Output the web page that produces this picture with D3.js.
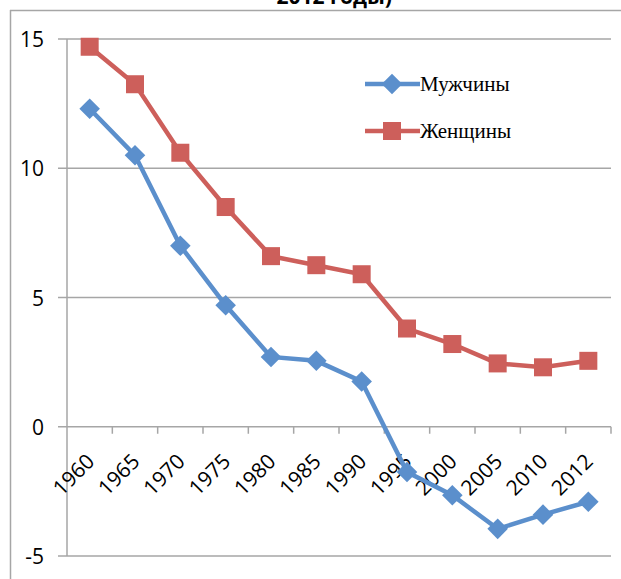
<!DOCTYPE html>
<html>
<head>
<meta charset="utf-8">
<script src="https://cdn.jsdelivr.net/npm/d3@7"></script>
<style>
body { margin: 0; background: #fff; }
svg { display: block; }
</style>
</head>
<body>
<svg width="621" height="579"></svg>
<script>
const years = ["1960", "1965", "1970", "1975", "1980", "1985", "1990", "1995", "2000", "2005", "2010", "2012"];
const men = [12.3, 10.5, 7.0, 4.7, 2.7, 2.55, 1.75, -1.75, -2.65, -3.95, -3.4, -2.9];
const women = [14.7, 13.25, 10.6, 8.5, 6.6, 6.25, 5.9, 3.8, 3.2, 2.45, 2.3, 2.55];
const yTicks = [-5, 0, 5, 10, 15];
const seriesNames = ["Мужчины", "Женщины"];

let svg = d3.select("svg"),
	width = +svg.attr("width"),
	height = +svg.attr("height");

const blue = "#5B8FCC", red = "#CD5F5B", grid = "#A6A6A6";

// chart area border (top + left edges visible)
svg.append("line").attr("x1", 10).attr("x2", width).attr("y1", 10.5).attr("y2", 10.5)
	.attr("stroke", grid).attr("stroke-width", 1.5);
svg.append("line").attr("x1", 10.5).attr("x2", 10.5).attr("y1", 10).attr("y2", height)
	.attr("stroke", grid).attr("stroke-width", 1.5);

// title, clipped at the top like in the source
svg.append("text")
	.attr("x", 392).attr("y", 4)
	.attr("text-anchor", "end")
	.style("font-family", "'Open Sans', sans-serif")
	.style("font-weight", "bold")
	.style("font-size", "21px")
	.text("2012 годы)");

let x = d3.scaleBand().domain(years).range([67, 611]);
let y = d3.scaleLinear().domain([-5, 15]).range([556, 39]);

// gridlines
svg.append("g").selectAll("line")
	.data(yTicks)
	.enter().append("line")
	.attr("x1", 58).attr("x2", 611)
	.attr("y1", d => y(d)).attr("y2", d => y(d))
	.attr("stroke", grid).attr("stroke-width", 1.5);

// y axis line
svg.append("line")
	.attr("x1", 67).attr("x2", 67)
	.attr("y1", y(15)).attr("y2", y(-5))
	.attr("stroke", grid).attr("stroke-width", 1.5);

// y labels
svg.append("g").selectAll("text")
	.data(yTicks)
	.enter().append("text")
	.attr("x", 44)
	.attr("y", d => y(d) + 8)
	.attr("text-anchor", "end")
	.style("font-family", "'Open Sans', sans-serif")
	.style("font-size", "21px")
	.text(d => d);

// category ticks on the zero line
svg.append("g").selectAll("line")
	.data(years)
	.enter().append("line")
	.attr("x1", d => x(d) + x.bandwidth())
	.attr("x2", d => x(d) + x.bandwidth())
	.attr("y1", y(0)).attr("y2", y(0) + 7)
	.attr("stroke", grid).attr("stroke-width", 1.5);

// category labels
svg.append("g").selectAll("text")
	.data(years)
	.enter().append("text")
	.attr("transform", d => "translate(" + (x(d) + x.bandwidth() / 2 + 6) + "," + (y(0) + 36) + ") rotate(-45)")
	.attr("text-anchor", "end")
	.style("font-family", "'Open Sans', sans-serif")
	.style("font-size", "21px")
	.text(d => d);

let line = d3.line()
	.x((d, i) => x(years[i]) + x.bandwidth() / 2)
	.y(d => y(d));

svg.append("path").datum(women)
	.attr("d", line).attr("fill", "none")
	.attr("stroke", red).attr("stroke-width", 4.5);
svg.append("path").datum(men)
	.attr("d", line).attr("fill", "none")
	.attr("stroke", blue).attr("stroke-width", 4.5);

svg.append("g").selectAll("rect")
	.data(women)
	.enter().append("rect")
	.attr("x", (d, i) => x(years[i]) + x.bandwidth() / 2 - 9)
	.attr("y", d => y(d) - 9)
	.attr("width", 18).attr("height", 18)
	.attr("fill", red);

let diamond = d3.symbol().type(d3.symbolDiamond2).size(270);
svg.append("g").selectAll("path")
	.data(men)
	.enter().append("path")
	.attr("d", diamond)
	.attr("transform", (d, i) => "translate(" + (x(years[i]) + x.bandwidth() / 2) + "," + y(d) + ")")
	.attr("fill", blue);

// legend
const legendY = [84, 131];
const legendColor = [blue, red];
let legend = svg.append("g").selectAll("g")
	.data(seriesNames)
	.enter().append("g")
	.attr("transform", (d, i) => "translate(0," + legendY[i] + ")");
legend.append("line")
	.attr("x1", 365).attr("x2", 420)
	.attr("stroke", (d, i) => legendColor[i]).attr("stroke-width", 4.5);
legend.each(function (d, i) {
	let g = d3.select(this);
	if (i === 0) {
		g.append("path").attr("d", diamond).attr("transform", "translate(392,0)").attr("fill", blue);
	} else {
		g.append("rect").attr("x", 383).attr("y", -9).attr("width", 18).attr("height", 18).attr("fill", red);
	}
});
legend.append("text")
	.attr("x", 420).attr("y", 7)
	.style("font-family", "'Liberation Serif', serif")
	.style("font-size", "21px")
	.text(d => d);
</script>
</body>
</html>
